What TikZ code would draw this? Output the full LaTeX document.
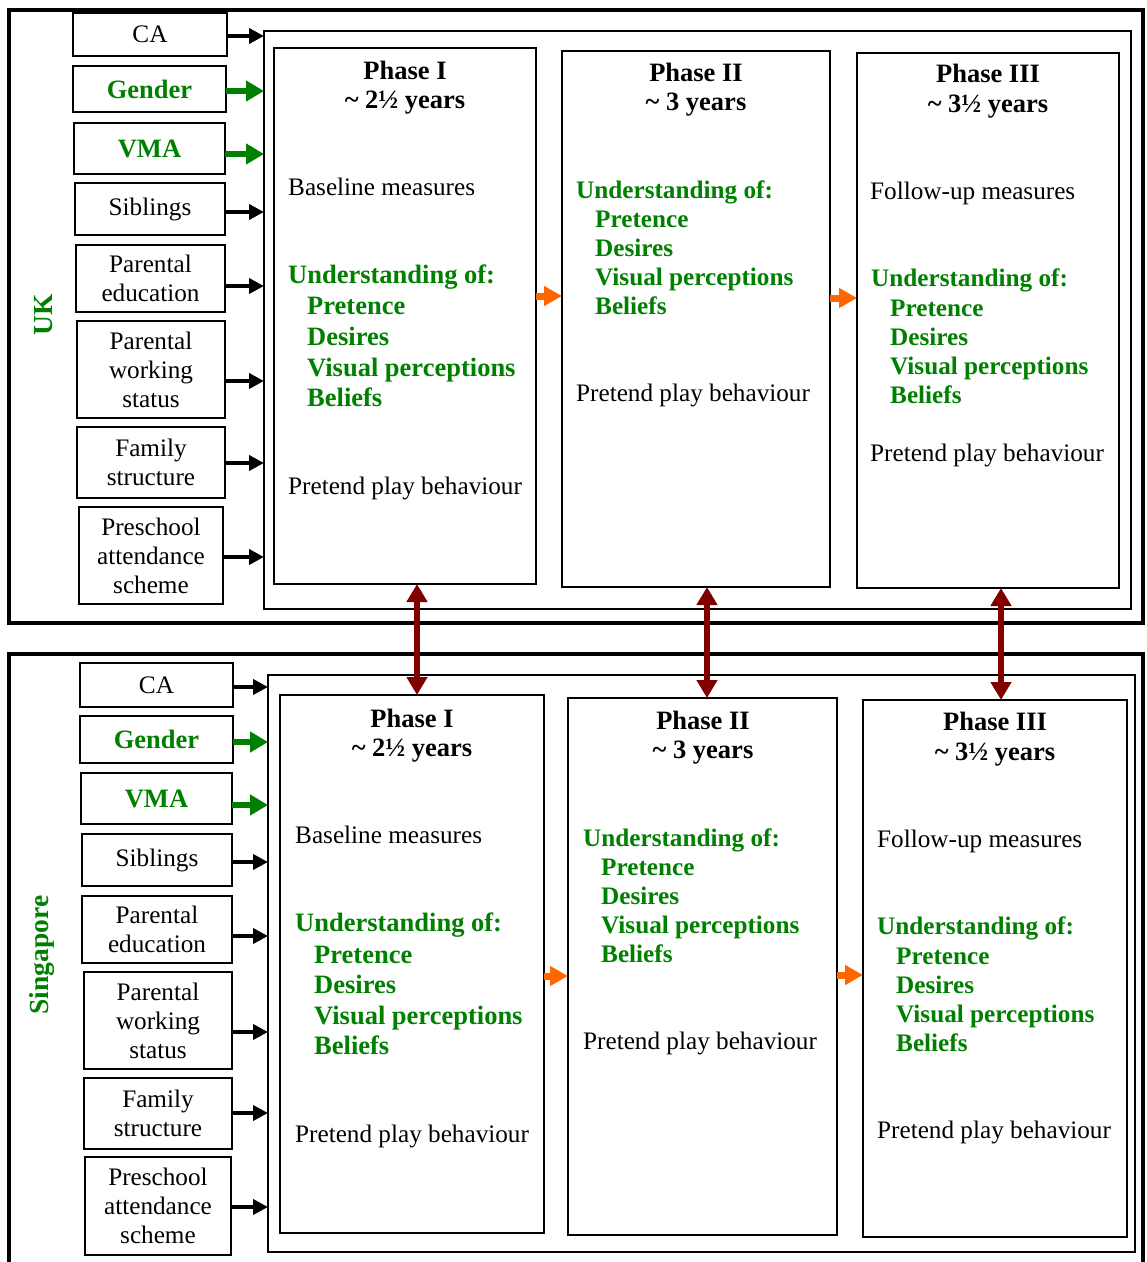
\documentclass[tikz,border=0pt]{standalone}
\usepackage{fontspec}
\setmainfont{Liberation Serif}
\usetikzlibrary{arrows.meta}
\definecolor{grn}{RGB}{0,128,0}
\definecolor{org}{RGB}{255,102,0}
\definecolor{dred}{RGB}{128,0,0}
\begin{document}
\begin{tikzpicture}[x=1pt,y=-1pt,
  fnt/.style={font=\fontsize{25.2}{29}\selectfont},
  bfnt/.style={font=\fontsize{26.5}{29}\selectfont\bfseries},
  sbfnt/.style={font=\fontsize{25.2}{29}\selectfont\bfseries},
  rect/.style={draw,inner sep=0pt,outer sep=0pt,anchor=north west,line width=2pt},
  frm/.style={rect,line width=3.5pt},
  inr/.style={rect,line width=2.5pt},
  fbox/.style={rect,align=center,fnt},
  gbox/.style={rect,align=center,bfnt,text=grn},
  txt/.style={fnt,inner sep=0pt,text height=17pt,text depth=0pt,anchor=west},
  gtxt/.style={txt,bfnt,text=grn},
  stxt/.style={txt,sbfnt,text=grn},
  ttl/.style={bfnt,inner sep=0pt,text height=17pt,text depth=0pt},
  lab/.style={font=\fontsize{27.5}{29}\selectfont\bfseries,text=grn,rotate=90,inner sep=0pt},
  blk/.style={line width=4.5pt,-{Triangle[length=15pt,width=15pt]}},
  garr/.style={draw=grn,line width=6pt,-{Triangle[length=18pt,width=20pt]}},
  oarr/.style={draw=org,line width=7pt,-{Triangle[length=18pt,width=19pt]}},
  rarr/.style={draw=dred,line width=6pt,{Triangle[length=18pt,width=20pt]}-{Triangle[length=18pt,width=20pt]}}
]
\clip (0,0) rectangle (1147,1262);
\fill[white] (0,0) rectangle (1147,1262);

% ================= UK =================
\node[frm,minimum width=1134pt,minimum height=613pt] (ukfr) at (9,10) {};
\node[inr,minimum width=867pt,minimum height=578pt] (ukin) at (264,31) {};
\node[rect,minimum width=262pt,minimum height=536pt] (ukp1) at (274,48) {};
\node[rect,minimum width=268pt,minimum height=536pt] (ukp2) at (562,51) {};
\node[rect,minimum width=262pt,minimum height=535pt] (ukp3) at (857,53) {};
\node[lab] (uklab) at (44,315) {UK};

\node[fbox,minimum width=154pt,minimum height=43pt] (ukca) at (73,13) {CA};
\node[gbox,minimum width=153pt,minimum height=46pt] (ukgen) at (73,66) {Gender};
\node[gbox,minimum width=151pt,minimum height=51pt] (ukvma) at (74,123) {VMA};
\node[fbox,minimum width=150pt,minimum height=52pt] (uksib) at (75,183) {Siblings};
\node[fbox,minimum width=149pt,minimum height=67pt] (ukpe) at (76,245) {Parental\\education};
\node[fbox,minimum width=148pt,minimum height=97pt] (ukpw) at (77,321) {Parental\\working\\status};
\node[fbox,minimum width=148pt,minimum height=71pt] (ukfs) at (77,427) {Family\\structure};
\node[fbox,minimum width=144pt,minimum height=97pt] (ukpre) at (79,507) {Preschool\\attendance\\scheme};

\draw[blk] ([yshift=-1.5pt]ukca.east) -- ([yshift=-1.5pt]ukca.east -| ukin.west);
\draw[garr] ([yshift=-2pt]ukgen.east) -- ([yshift=-2pt]ukgen.east -| ukin.west);
\draw[garr] ([yshift=-5.5pt]ukvma.east) -- ([yshift=-5.5pt]ukvma.east -| ukin.west);
\draw[blk] ([yshift=-3pt]uksib.east) -- ([yshift=-3pt]uksib.east -| ukin.west);
\draw[blk] ([yshift=-7.5pt]ukpe.east) -- ([yshift=-7.5pt]ukpe.east -| ukin.west);
\draw[blk] ([yshift=-11.5pt]ukpw.east) -- ([yshift=-11.5pt]ukpw.east -| ukin.west);
\draw[blk] ([yshift=-0.5pt]ukfs.east) -- ([yshift=-0.5pt]ukfs.east -| ukin.west);
\draw[blk] ([yshift=-1.5pt]ukpre.east) -- ([yshift=-1.5pt]ukpre.east -| ukin.west);

% Phase I (UK)
\node[ttl] (uk1t) at (405,71) {Phase I};
\node[ttl] (uk1y) at (405,100) {\textasciitilde\ 2½ years};
\node[txt] (uk1b) at (288,187) {Baseline measures};
\node[gtxt] (uk1u) at (288,275) {Understanding of:};
\node[gtxt] (uk1p) at (307,306) {Pretence};
\node[gtxt] (uk1d) at (307,337) {Desires};
\node[gtxt] (uk1v) at (307,368) {Visual perceptions};
\node[gtxt] (uk1bl) at (307,398) {Beliefs};
\node[txt] (uk1pp) at (288,486) {Pretend play behaviour};
% Phase II (UK)
\node[ttl] (uk2t) at (696,73) {Phase II};
\node[ttl] (uk2y) at (696,102) {\textasciitilde\ 3 years};
\node[stxt] (uk2u) at (576,190) {Understanding of:};
\node[stxt] (uk2p) at (595,219) {Pretence};
\node[stxt] (uk2d) at (595,248) {Desires};
\node[stxt] (uk2v) at (595,277) {Visual perceptions};
\node[stxt] (uk2bl) at (595,306) {Beliefs};
\node[txt] (uk2pp) at (576,393) {Pretend play behaviour};
% Phase III (UK)
\node[ttl] (uk3t) at (988,74) {Phase III};
\node[ttl] (uk3y) at (988,104) {\textasciitilde\ 3½ years};
\node[txt] (uk3f) at (870,191) {Follow-up measures};
\node[stxt] (uk3u) at (871,278) {Understanding of:};
\node[stxt] (uk3p) at (890,308) {Pretence};
\node[stxt] (uk3d) at (890,337) {Desires};
\node[stxt] (uk3v) at (890,366) {Visual perceptions};
\node[stxt] (uk3bl) at (890,395) {Beliefs};
\node[txt] (uk3pp) at (870,453) {Pretend play behaviour};

\draw[oarr] ([yshift=20pt]ukp1.east) -- ([yshift=23pt]ukp2.west);
\draw[oarr] ([yshift=21pt]ukp2.east) -- ([yshift=22.5pt]ukp3.west);

% ================= Singapore =================
\node[frm,minimum width=1134pt,minimum height=640pt] (sgfr) at (9,654) {};
\node[inr,minimum width=867pt,minimum height=577pt] (sgin) at (268,675) {};
\node[rect,minimum width=264pt,minimum height=538pt] (sgp1) at (280,695) {};
\node[rect,minimum width=269pt,minimum height=537pt] (sgp2) at (568,698) {};
\node[rect,minimum width=264pt,minimum height=537pt] (sgp3) at (863,700) {};
\node[lab] (sglab) at (42,955) {Singapore};

\node[fbox,minimum width=153pt,minimum height=44pt] (sgca) at (80,663) {CA};
\node[gbox,minimum width=153pt,minimum height=47pt] (sggen) at (80,716) {Gender};
\node[gbox,minimum width=151pt,minimum height=51pt] (sgvma) at (81,773) {VMA};
\node[fbox,minimum width=150pt,minimum height=52pt] (sgsib) at (82,834) {Siblings};
\node[fbox,minimum width=150pt,minimum height=67pt] (sgpe) at (82,896) {Parental\\education};
\node[fbox,minimum width=148pt,minimum height=97pt] (sgpw) at (84,972) {Parental\\working\\status};
\node[fbox,minimum width=148pt,minimum height=71pt] (sgfs) at (84,1078) {Family\\structure};
\node[fbox,minimum width=146pt,minimum height=98pt] (sgpre) at (85,1157) {Preschool\\attendance\\scheme};

\draw[blk] ([yshift=-2pt]sgca.east) -- ([yshift=-2pt]sgca.east -| sgin.west);
\draw[garr] ([yshift=-2.5pt]sggen.east) -- ([yshift=-2.5pt]sggen.east -| sgin.west);
\draw[garr] ([yshift=-6.5pt]sgvma.east) -- ([yshift=-6.5pt]sgvma.east -| sgin.west);
\draw[blk] ([yshift=-2pt]sgsib.east) -- ([yshift=-2pt]sgsib.east -| sgin.west);
\draw[blk] ([yshift=-6.5pt]sgpe.east) -- ([yshift=-6.5pt]sgpe.east -| sgin.west);
\draw[blk] ([yshift=-11.5pt]sgpw.east) -- ([yshift=-11.5pt]sgpw.east -| sgin.west);
\draw[blk] ([yshift=0.5pt]sgfs.east) -- ([yshift=0.5pt]sgfs.east -| sgin.west);
\draw[blk] ([yshift=-1pt]sgpre.east) -- ([yshift=-1pt]sgpre.east -| sgin.west);

% Phase I (SG)
\node[ttl] (sg1t) at (412,719) {Phase I};
\node[ttl] (sg1y) at (412,748) {\textasciitilde\ 2½ years};
\node[txt] (sg1b) at (295,835) {Baseline measures};
\node[gtxt] (sg1u) at (295,923) {Understanding of:};
\node[gtxt] (sg1p) at (314,955) {Pretence};
\node[gtxt] (sg1d) at (314,985) {Desires};
\node[gtxt] (sg1v) at (314,1016) {Visual perceptions};
\node[gtxt] (sg1bl) at (314,1046) {Beliefs};
\node[txt] (sg1pp) at (295,1134) {Pretend play behaviour};
% Phase II (SG)
\node[ttl] (sg2t) at (703,721) {Phase II};
\node[ttl] (sg2y) at (703,750) {\textasciitilde\ 3 years};
\node[stxt] (sg2u) at (583,838) {Understanding of:};
\node[stxt] (sg2p) at (601,867) {Pretence};
\node[stxt] (sg2d) at (601,896) {Desires};
\node[stxt] (sg2v) at (601,925) {Visual perceptions};
\node[stxt] (sg2bl) at (601,954) {Beliefs};
\node[txt] (sg2pp) at (583,1041) {Pretend play behaviour};
% Phase III (SG)
\node[ttl] (sg3t) at (995,722) {Phase III};
\node[ttl] (sg3y) at (995,752) {\textasciitilde\ 3½ years};
\node[txt] (sg3f) at (877,839) {Follow-up measures};
\node[stxt] (sg3u) at (877,926) {Understanding of:};
\node[stxt] (sg3p) at (896,956) {Pretence};
\node[stxt] (sg3d) at (896,985) {Desires};
\node[stxt] (sg3v) at (896,1014) {Visual perceptions};
\node[stxt] (sg3bl) at (896,1043) {Beliefs};
\node[txt] (sg3pp) at (877,1130) {Pretend play behaviour};

\draw[oarr] ([yshift=-12pt]sgp1.east) -- ([yshift=-9.5pt]sgp2.west);
\draw[oarr] ([yshift=-8.5pt]sgp2.east) -- ([yshift=-6.5pt]sgp3.west);

% ================= UK <-> Singapore =================
\draw[rarr] ([xshift=12pt]ukp1.south) -- ([xshift=5pt]sgp1.north);
\draw[rarr] ([xshift=11pt]ukp2.south) -- ([xshift=4.5pt]sgp2.north);
\draw[rarr] ([xshift=13pt]ukp3.south) -- ([xshift=6pt]sgp3.north);
\end{tikzpicture}
\end{document}
